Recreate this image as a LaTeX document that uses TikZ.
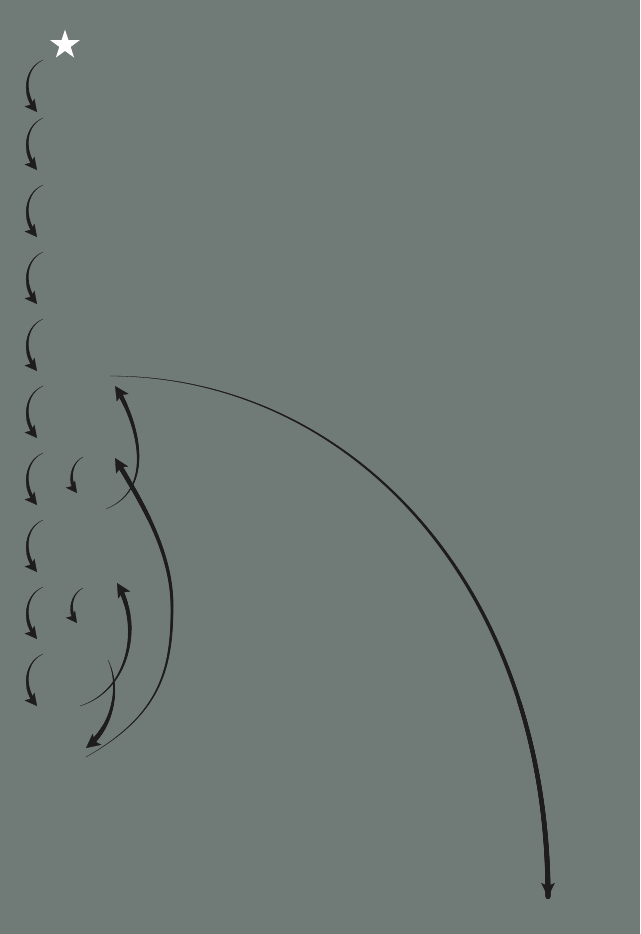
\documentclass[tikz,border=0pt]{standalone}
\usetikzlibrary{arrows.meta,shapes.geometric,decorations.markings}
\definecolor{bg}{RGB}{112,122,119}
\definecolor{ink}{RGB}{30,28,28}
\tikzset{taper/.style 2 args={draw=ink, line width=0.3pt,
  postaction={decorate, decoration={markings,
    mark=between positions 0 and -#2 step 0.5pt with {%
      \pgfmathsetmacro\rr{#1*(\pgfkeysvalueof{/pgf/decoration/mark info/distance from start}/\pgfdecoratedpathlength)^0.8}%
      \fill[ink] (0,0) circle (\rr pt);}}}}}
\tikzstyle{smallhead} = [-{Stealth[length=12pt,width=12.5pt,inset=2.5pt]}]
\tikzstyle{midhead} = [-{Stealth[length=11pt,width=11.5pt,inset=2.5pt]}]
\tikzstyle{bighead} = [-{Stealth[length=14pt,width=14pt,inset=3pt]}]

\begin{document}
\begin{tikzpicture}[x=1pt,y=-1pt]
  \fill[bg] (0,0) rectangle (640,934);
  \useasboundingbox (0,0) rectangle (640,934);
  \node[star,star points=5,star point ratio=2.6,fill=white,minimum size=31pt,inner sep=0pt] (star) at (65,45) {};
  \foreach \y [count=\i] in {60,118,185,252,319,386,453,520,587,654} {
    \coordinate (s\i) at (43,\y);
    \coordinate (e\i) at (37,\y+52);
    \draw[taper={2}{9pt},smallhead] (s\i) .. controls +(-18,8) and +(-15,-19) .. (e\i);
  }
  \coordinate (ms1) at (83,457);
  \coordinate (me1) at (77,493);
  \coordinate (ms2) at (83,588);
  \coordinate (me2) at (77,623);
  \draw[taper={1.8}{8pt},midhead] (ms1) .. controls +(-12,6) and +(-9,-12) .. (me1);
  \draw[taper={1.8}{8pt},midhead] (ms2) .. controls +(-12,6) and +(-9,-12) .. (me2);
  \coordinate (a1) at (106,509);
  \coordinate (b1) at (115,386);
  \coordinate (a2) at (86,757);
  \coordinate (m2) at (172,607);
  \coordinate (b2) at (115,458);
  \coordinate (a3) at (80,706);
  \coordinate (b3) at (117,583);
  \coordinate (a4) at (108,660);
  \coordinate (b4) at (86,748);
  \coordinate (a5) at (110,376);
  \coordinate (b5) at (548,897);
  \draw[taper={2.3}{11pt},bighead] (a1) .. controls +(52,-21) and +(21,32) .. (b1);
  \draw[taper={2.4}{11pt},bighead] (a2) .. controls +(74,-42) and +(0,63) .. (m2)
    .. controls +(0,-57) and +(25,42) .. (b2);
  \draw[taper={2.3}{11pt},bighead] (a3) .. controls +(50,-16) and +(25,42) .. (b3);
  \draw[taper={2.6}{11pt},bighead] (a4) .. controls +(12,25) and +(29,-23) .. (b4);
  \draw[taper={2.6}{11pt},-{Stealth[length=14pt,width=13.5pt,inset=3pt]}] (a5) .. controls +(240,0) and +(0,-312) .. (b5);
\end{tikzpicture}
\end{document}
